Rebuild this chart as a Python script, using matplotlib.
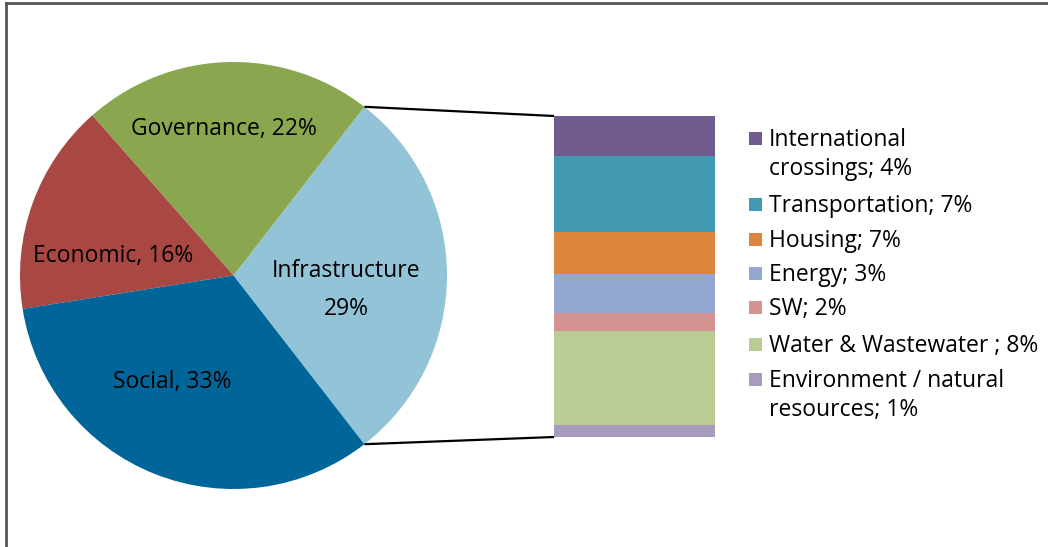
import numpy as np
import matplotlib.pyplot as plt
from matplotlib.patches import Rectangle
from matplotlib.lines import Line2D

plt.rcParams['font.family'] = ['Open Sans', 'DejaVu Sans']

# Pie data (percent of total)
pie_names = ["Infrastructure", "Governance", "Economic", "Social"]
pie_values = [29, 22, 16, 33]
pie_labels = ["Infrastructure\n29%", "Governance, 22%", "Economic, 16%", "Social, 33%"]
pie_colors = ["#93c3d7", "#8aa64f", "#a94743", "#00669a"]

# Breakdown of infrastructure (bottom to top), heights as drawn
bar_names = ["Environment / natural\nresources; 1%", "Water & Wastewater ; 8%", "SW; 2%",
             "Energy; 3%", "Housing; 7%", "Transportation; 7%", "International\ncrossings; 4%"]
bar_values = [1.1, 8.5, 1.6, 3.6, 3.8, 6.9, 3.6]
bar_colors = ["#a89cbe", "#bacb96", "#d49391", "#93a8d0", "#de853d", "#4299b2", "#705b8f"]

W, H = 1048, 547
FS = 16.5
fig = plt.figure(figsize=(W / 100, H / 100), dpi=100)
ax = fig.add_axes([0, 0, 1, 1])

cx, cy, r = 233.5, 271.5, 213.5
start = -pie_values[0] * 3.6 / 2
wedges, _ = ax.pie(pie_values, colors=pie_colors, startangle=start, counterclock=True,
                   center=(cx, cy), radius=r, wedgeprops=dict(linewidth=0))
ax.set_xlim(0, W)
ax.set_ylim(0, H)
ax.set_aspect('auto')
ax.axis('off')

# slice labels (pixel positions from the picture, y measured from top)
label_pos = [(346, 290), (224, 129), (113, 256), (172, 382)]
for (x, y), txt in zip(label_pos, pie_labels):
    ax.text(x, H - y, txt, ha='center', va='center', fontsize=FS,
            color='black', linespacing=1.75)

# stacked bar for the infrastructure breakdown
bx0, by_top, by_bot, bx1 = 554, 116, 437, 715
bax = fig.add_axes([bx0 / W, (H - by_bot) / H, (bx1 - bx0) / W, (by_bot - by_top) / H])
bottom = 0
for v, c in zip(bar_values, bar_colors):
    bax.bar(0.5, v, width=1, bottom=bottom, color=c, linewidth=0)
    bottom += v
bax.set_xlim(0, 1)
bax.set_ylim(0, sum(bar_values))
bax.axis('off')

# connector lines from the infrastructure wedge to the bar
w = wedges[0]
for ang, yb in [(w.theta2, by_top), (w.theta1, by_bot)]:
    px = cx + r * np.cos(np.radians(ang))
    py = cy + r * np.sin(np.radians(ang))
    ax.plot([px, bx0], [py, H - yb], color='black', lw=1.6, solid_capstyle='butt')

# legend, drawn by hand (top to bottom)
leg_y = [138, 204, 239, 273, 307, 344, 379]
leg_order = list(range(len(bar_names)))[::-1]
for y, i in zip(leg_y, leg_order):
    ax.add_patch(Rectangle((749, H - y - 7), 13, 13, color=bar_colors[i], lw=0))
    ax.text(769, H - y + 10, bar_names[i], ha='left', va='top', fontsize=FS,
            linespacing=1.3)

# frame on left and top
fig.add_artist(Line2D([6 / W, 6 / W], [0, 1 - 3 / H], transform=fig.transFigure,
                      color='#555555', lw=2))
fig.add_artist(Line2D([6 / W, 1], [1 - 3 / H, 1 - 3 / H], transform=fig.transFigure,
                      color='#555555', lw=2))

fig.savefig('out.png', dpi=100)
